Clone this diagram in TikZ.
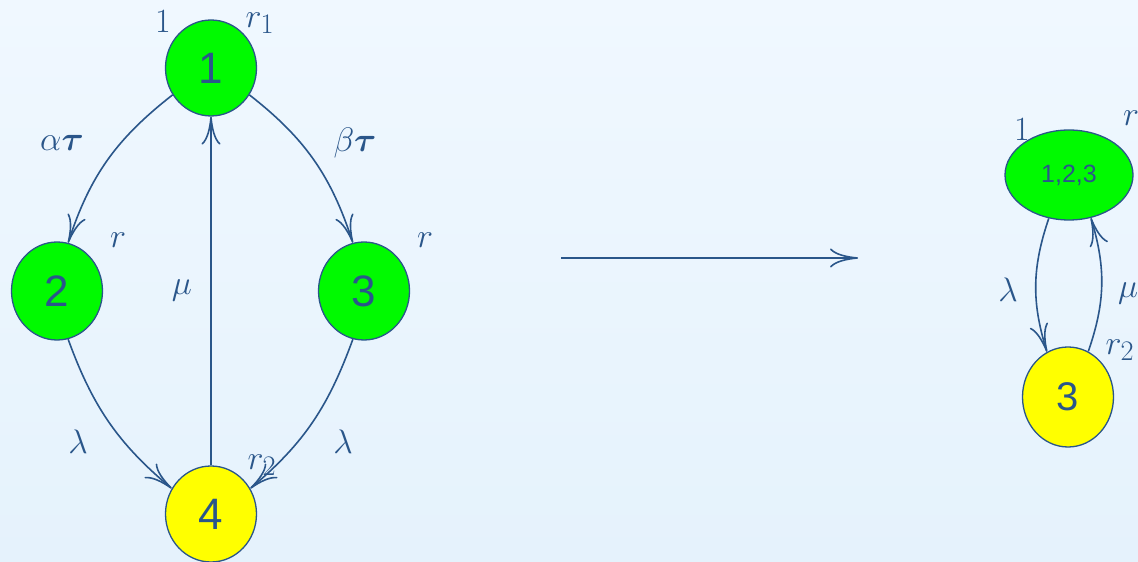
\documentclass[tikz,border=0pt]{standalone}
\usepackage{fontspec}
\usepackage{bm}
\newfontfamily\nodefont{Liberation Sans}
\usetikzlibrary{shapes.geometric,arrows.meta}
\definecolor{linec}{RGB}{42,86,138}
\definecolor{bgtop}{RGB}{240,248,255}
\definecolor{bgbot}{RGB}{229,242,252}
\definecolor{nodegreen}{RGB}{0,250,0}
\definecolor{nodeyellow}{RGB}{255,255,0}
\newcommand{\mylab}[1]{\scalebox{1.366}{\fontsize{24.88}{26}\selectfont$#1$}}
\tikzset{
  state/.style={ellipse, draw=linec, line width=1.3pt, inner sep=0pt, text=linec,
    font=\nodefont\fontsize{44}{44}\selectfont},
  greenst/.style={state, fill=nodegreen},
  yellowst/.style={state, fill=nodeyellow},
  lab/.style={text=linec, inner sep=0pt},
  arr/.style={draw=linec, line width=1.6pt, -{To[length=28pt,width=19pt]}}
}
\begin{document}
\begin{tikzpicture}[x=1pt,y=1pt]
\useasboundingbox (0,0) rectangle (1138,562);
\clip (0,0) rectangle (1138,562);
\fill[top color=bgtop, bottom color=bgbot] (0,0) rectangle (1138,562);
% left graph
\node[greenst, minimum width=91pt, minimum height=96pt] (n1) at (211,494) {1};
\node[greenst, minimum width=91pt, minimum height=98pt] (n2) at (57,271) {2};
\node[greenst, minimum width=91pt, minimum height=98pt] (n3) at (364,271) {3};
\node[yellowst, minimum width=91pt, minimum height=96pt] (n4) at (211,48) {4};
\draw[arr] (n1.-145) to[out=-142,in=72] (n2.77);
\draw[arr] (n1.-35) to[out=-38,in=108] (n3.103);
\draw[arr] (n2.-77) to[out=-70,in=140] (n4.147);
\draw[arr] (n3.-103) to[out=-110,in=40] (n4.33);
\draw[arr] (n4) -- (n1);
\node[lab] (l1) at (163,540) {\mylab{1}};
\node[lab] (lr1) at (260,539) {\mylab{r_1}};
\node[lab] (lat) at (62,419) {\mylab{\alpha\bm{\tau}}};
\node[lab] (lbt) at (355,419) {\mylab{\beta\bm{\tau}}};
\node[lab] (lr2a) at (118,322) {\mylab{r}};
\node[lab] (lr3a) at (425,322) {\mylab{r}};
\node[lab] (lmu) at (182,272) {\mylab{\mu}};
\node[lab] (lla) at (78,120) {\mylab{\lambda}};
\node[lab] (llb) at (343,120) {\mylab{\lambda}};
\node[lab] (lr4) at (262,97) {\mylab{r_2}};
% big arrow
\coordinate (a1) at (561,304);
\coordinate (a2) at (858,304);
\draw[arr] (a1) -- (a2);
% right graph
\node[greenst, minimum width=128pt, minimum height=90pt, font=\nodefont\fontsize{25}{25}\selectfont] (m1) at (1069,387) {1,2,3};
\node[yellowst, minimum width=91pt, minimum height=100pt, font=\nodefont\fontsize{40}{40}\selectfont] (m3) at (1068,165) {3};
\draw[arr] (m1.-115) to[bend right=18] (m3.115);
\draw[arr] (m3.66) to[bend right=18] (m1.-63);
\node[lab] (ml1) at (1022,432) {\mylab{1}};
\node[lab] (mlr) at (1131,444) {\mylab{r}};
\node[lab] (mlla) at (1008,272) {\mylab{\lambda}};
\node[lab] (mlmu) at (1128,269) {\mylab{\mu}};
\node[lab] (mlr2) at (1120,212) {\mylab{r_2}};
\end{tikzpicture}
\end{document}
